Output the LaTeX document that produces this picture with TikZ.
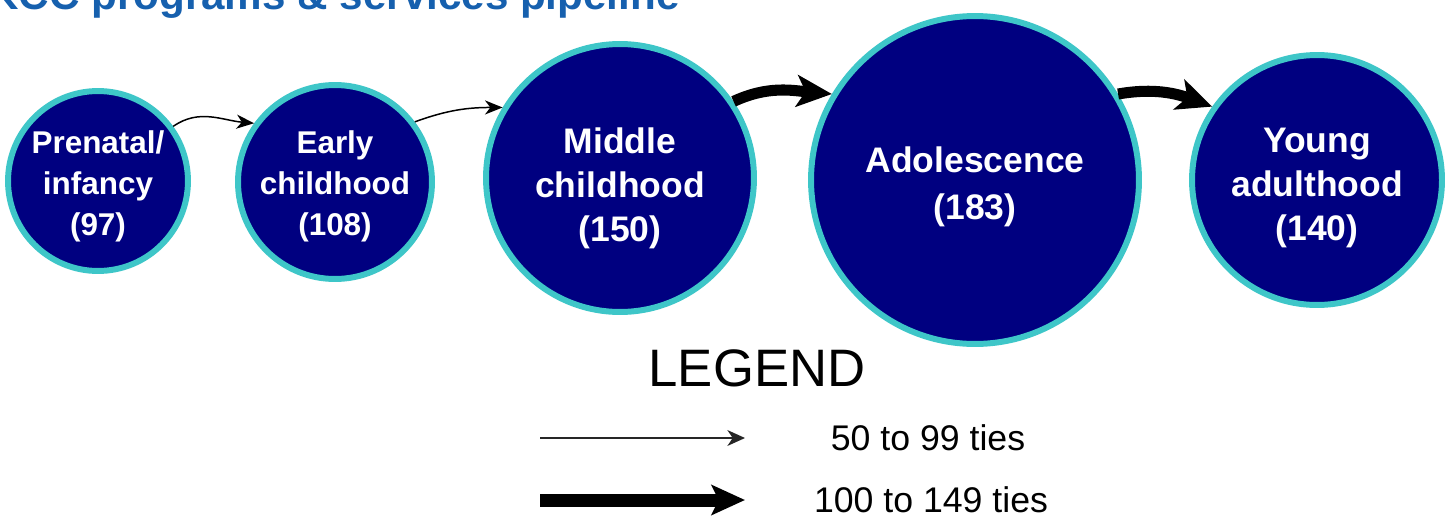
\documentclass[tikz,border=0pt]{standalone}
\usepackage{fontspec}
\setmainfont{Liberation Sans}
\usetikzlibrary{arrows.meta}

\definecolor{stagenavy}{HTML}{000080}
\definecolor{stagerim}{HTML}{3EC6C8}
\definecolor{titleblue}{HTML}{1660AE}

\newcommand{\stagesmall}{\bfseries\fontsize{17.9}{23.3}\selectfont}
\newcommand{\stagebig}{\bfseries\fontsize{20.2}{25}\selectfont}
% invisible strut, lowers the label inside a circle
\newcommand{\stagedrop}[1]{\rule{0pt}{#1}}

\tikzset{
  stage/.style={circle,draw=stagerim,fill=stagenavy,line width=3.4pt,
    inner sep=0pt,text=white,align=center},
  weaktie/.style={-{Stealth[length=10pt,width=8pt,inset=3pt]},line width=0.85pt},
  strongtie/.style={-{Stealth[length=20pt,width=18pt,inset=5pt]},line width=6.3pt},
}

\begin{document}
\begin{tikzpicture}[x=0.02cm,y=-0.02cm]
\clip (0,0) rectangle (1456,521);

\node[anchor=base east,inner sep=0pt,text=titleblue,font=\bfseries\fontsize{24}{28}\selectfont] (title) at (680,9) {KCC programs \& services pipeline};

% stages of the pipeline
\node[stage,minimum size=3.48cm,font=\stagesmall] (prenatal) at (98,181) {\stagedrop{18.7pt}Prenatal/\\infancy\\(97)};
\node[stage,minimum size=3.88cm,font=\stagesmall] (early) at (335,182) {\stagedrop{17.6pt}Early\\childhood\\(108)};
\node[stage,minimum size=5.36cm,font=\stagebig] (middle) at (620,178) {\stagedrop{26pt}Middle\\childhood\\(150)};
\node[stage,minimum size=6.56cm,font=\stagebig] (adolescence) at (975,180) {\stagedrop{22.7pt}Adolescence\\[2pt](183)};
\node[stage,minimum size=5.0cm,font=\stagebig] (young) at (1317,180) {\stagedrop{22.5pt}Young\\adulthood\\(140)};

\draw[weaktie] (prenatal.36) to[out=35,in=175] (early.144);
\draw[weaktie] (early.37) to[out=20,in=180] (middle.149);
\draw[strongtie] (middle.34) to[out=25,in=175] (adolescence.149);
\draw[strongtie] (adolescence.31) to[out=10,in=160] (young.145);

% legend
\node[font=\fontsize{30}{34}\selectfont] (legend) at (757,368) {LEGEND};
\coordinate (weakfrom) at (540,438);
\coordinate (weakto) at (745,438);
\coordinate (strongfrom) at (540,500);
\coordinate (strongto) at (745,500);
\draw[-{Stealth[length=10pt,width=9pt,inset=3pt]},line width=1.1pt,black!85] (weakfrom) -- (weakto);
\draw[-{Stealth[length=19pt,width=17pt,inset=4pt]},line width=7.4pt] (strongfrom) -- (strongto);
\node[font=\fontsize{20.3}{24}\selectfont] (weaklabel) at (928,438) {50 to 99 ties};
\node[font=\fontsize{20.3}{24}\selectfont] (stronglabel) at (931,500) {100 to 149 ties};
\end{tikzpicture}
\end{document}
